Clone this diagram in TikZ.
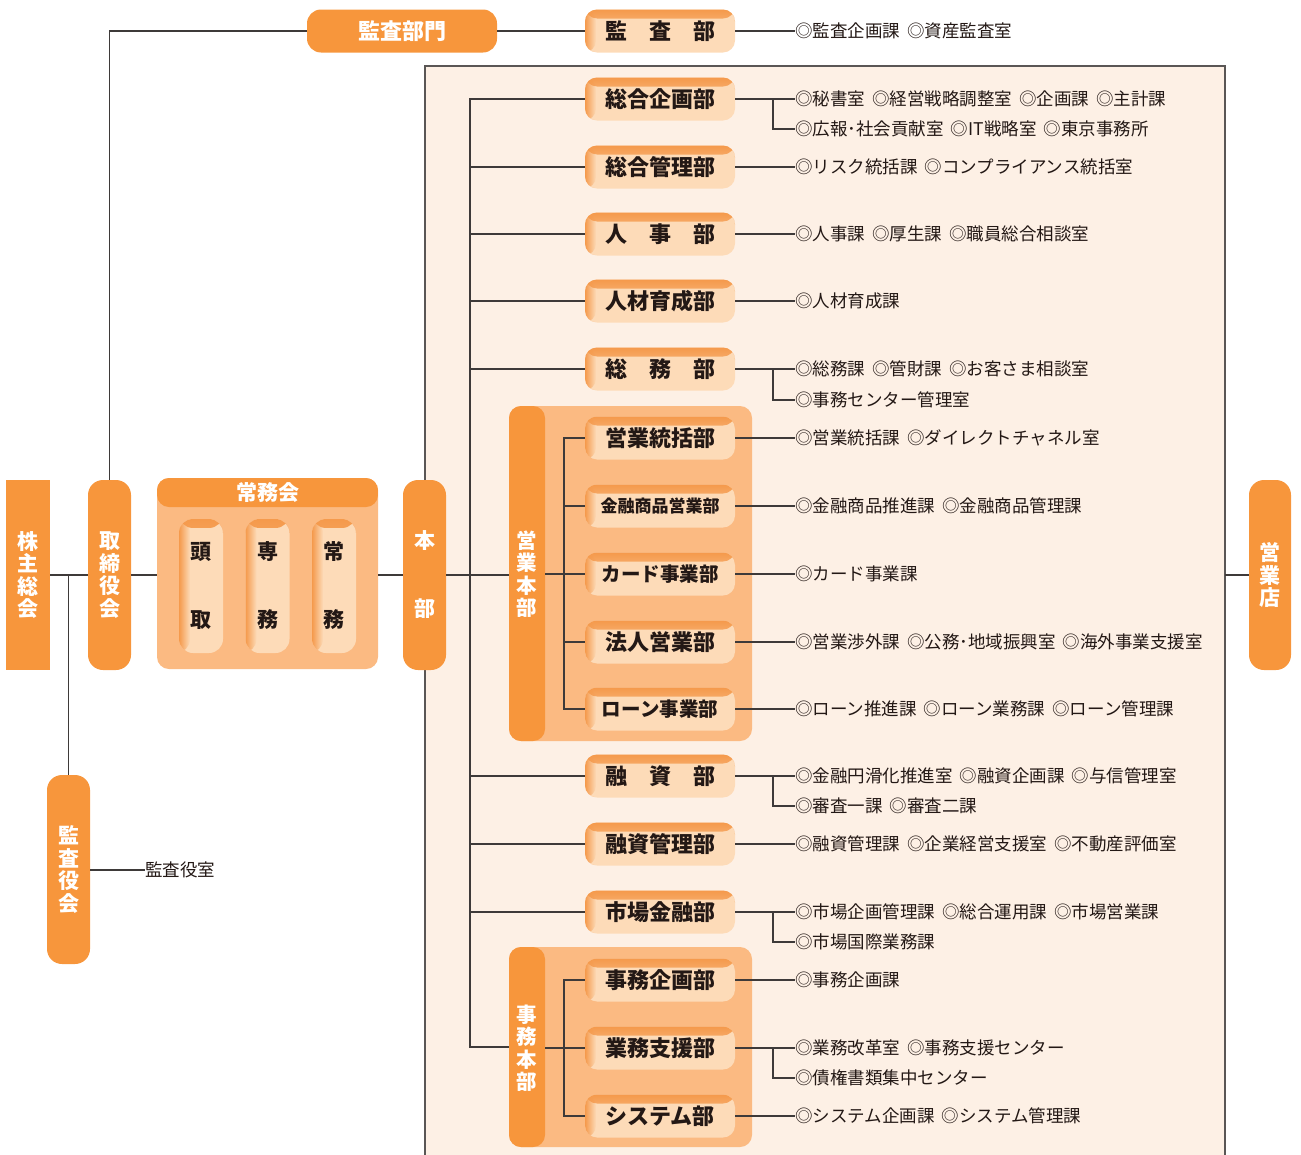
\documentclass[tikz,border=0pt]{standalone}
\usepackage{fontspec}
\usetikzlibrary{fadings}
\newfontfamily\jp{Noto Sans CJK JP}
\definecolor{orng}{HTML}{F7963C}
\definecolor{gbody}{HTML}{FBBA82}
\definecolor{btnlight}{HTML}{FDDBB8}
\definecolor{btnshade}{HTML}{F59A4C}
\definecolor{panelbg}{HTML}{FDF0E5}
\definecolor{linec}{HTML}{3E3A39}
\definecolor{panelline}{HTML}{5A5655}
\definecolor{txtc}{HTML}{231815}
\newcommand{\gapx}{\hspace{0.4em}}
\tikzset{
  conn/.style={draw=linec, line width=1.3pt},
  orbox/.style={fill=orng, text=white, font=\jp\bfseries\fontsize{21}{22.5}\selectfont,
    align=center, inner sep=0, minimum width=43, minimum height=190, rounded corners=15},
  btnshadow/.style={path picture={
    \fill[btnshade, path fading=south] (path picture bounding box.north west) rectangle ([yshift=-9pt]path picture bounding box.north east);
    \fill[btnshade, path fading=east] (path picture bounding box.north west) rectangle ([xshift=11pt]path picture bounding box.south west);
  }},
  btn/.style={btnshadow, fill=btnlight, rounded corners=12, minimum width=150, minimum height=43,
    inner sep=0, text=txtc, font=\jp\bfseries\fontsize{22}{22}\selectfont},
  btnsix/.style={btn, font=\jp\bfseries\fontsize{19.5}{19.5}\selectfont},
  pill/.style={btnshadow, fill=btnlight, rounded corners=14, minimum width=44, minimum height=134,
    inner sep=0, text=txtc, align=center, font=\jp\bfseries\fontsize{21}{68}\selectfont},
  desc/.style={anchor=west, inner sep=0, text=txtc, font=\jp\fontsize{17.5}{17.5}\selectfont},
  grp/.style={fill=gbody, rounded corners=12, inner sep=0, path picture={
    \fill[orng] (path picture bounding box.south west) rectangle ([xshift=36pt]path picture bounding box.north west);}},
  jgrp/.style={fill=gbody, rounded corners=12, inner sep=0, path picture={
    \fill[orng] (path picture bounding box.north west) rectangle ([yshift=-29pt]path picture bounding box.north east);}},
  bandtxt/.style={text=white, align=center, inner sep=0, font=\jp\bfseries\fontsize{20.5}{22.5}\selectfont},
}
\begin{document}
\begin{tikzpicture}[x=1pt,y=-1pt]
\useasboundingbox (0,0) rectangle (1301,1154);
% panel
\fill[panelbg] (425,66) rectangle (1225,1170);
\draw[draw=panelline, line width=1.4pt] (425,1170) -- (425,66) -- (1225,66) -- (1225,1170);
\coordinate (bus) at (470,0);
\coordinate (eband) at (545,0);
\coordinate (ebus) at (564,0);
\coordinate (split) at (773,0);
\coordinate (pr) at (1225,0);

% left column
\node[orbox, rounded corners=0, minimum width=44] (kabunushi) at (28,575) {株\\主\\総\\会};
\node[orbox] (torishimari) at (109.5,575) {取\\締\\役\\会};
\node[jgrp, minimum width=221, minimum height=191] (jomukai) at (267.5,573.5) {};
\node[bandtxt, font=\jp\bfseries\fontsize{21}{21}\selectfont] (jomutitle) at (267.5,492.5) {常務会};
\node[pill] (tosu) at (201,586) {頭\\取};
\node[pill] (senmu) at (267.5,586) {専\\務};
\node[pill] (jomu) at (334,586) {常\\務};
\node[orbox, font=\jp\bfseries\fontsize{21}{68}\selectfont] (honbu) at (424.5,575) {本\\部};
\node[orbox, minimum width=42] (eigyoten) at (1270,575) {営\\業\\店};
\node[orbox, minimum height=189] (kansayaku) at (68.5,869.5) {監\\査\\役\\会};
\node[desc] (kansayakushitsu) at (145,870) {監査役室};

% top
\node[orbox, minimum width=190, minimum height=43, rounded corners=14, font=\jp\bfseries\fontsize{22}{22}\selectfont] (kansabumon) at (402,31) {監査部門};
\node[btn] (kansabu) at (660,31) {監\hspace{1em}査\hspace{1em}部};
\node[desc] (d-kansa) at (795,31) {◎監査企画課\gapx◎資産監査室};

% groups
\node[grp, minimum width=243, minimum height=335] (eigyo) at (630.5,573.5) {};
\node[bandtxt] (eigyotxt) at (527,574) {営\\業\\本\\部};
\node[grp, minimum width=243, minimum height=200] (jimu) at (630.5,1047) {};
\node[bandtxt] (jimutxt) at (527,1048) {事\\務\\本\\部};

% departments
\node[btn] (sogokikaku) at (660,99) {総合企画部};
\node[btn] (sogokanri) at (660,167) {総合管理部};
\node[btn] (jinji) at (660,234) {人\hspace{1em}事\hspace{1em}部};
\node[btn] (jinzai) at (660,301) {人材育成部};
\node[btn] (somu) at (660,369) {総\hspace{1em}務\hspace{1em}部};
\node[btn] (eitokatsu) at (660,438) {営業統括部};
\node[btn, font=\jp\bfseries\fontsize{17}{17}\selectfont] (kinyu) at (660,506) {金融商品営業部};
\node[btnsix] (card) at (660,574) {カード事業部};
\node[btn] (hojin) at (660,642) {法人営業部};
\node[btnsix] (loan) at (660,709) {ローン事業部};
\node[btn] (yushi) at (660,776) {融\hspace{1em}資\hspace{1em}部};
\node[btn] (yushikanri) at (660,844) {融資管理部};
\node[btn] (shijo) at (660,912) {市場金融部};
\node[btn] (jimukikaku) at (660,980) {事務企画部};
\node[btn] (gyomushien) at (660,1048) {業務支援部};
\node[btn] (system) at (660,1116) {システム部};

% descriptions
\node[desc] (d1a) at (795,99) {◎秘書室\gapx◎経営戦略調整室\gapx◎企画課\gapx◎主計課};
\node[desc] (d1b) at (795,129) {◎広報･社会貢献室\gapx◎IT戦略室\gapx◎東京事務所};
\node[desc] (d2) at (795,167) {◎リスク統括課\gapx◎コンプライアンス統括室};
\node[desc] (d3) at (795,234) {◎人事課\gapx◎厚生課\gapx◎職員総合相談室};
\node[desc] (d4) at (795,301) {◎人材育成課};
\node[desc] (d5a) at (795,369) {◎総務課\gapx◎管財課\gapx◎お客さま相談室};
\node[desc] (d5b) at (795,400) {◎事務センター管理室};
\node[desc] (d6) at (795,438) {◎営業統括課\gapx◎ダイレクトチャネル室};
\node[desc] (d7) at (795,506) {◎金融商品推進課\gapx◎金融商品管理課};
\node[desc] (d8) at (795,574) {◎カード事業課};
\node[desc] (d9) at (795,642) {◎営業渉外課\gapx◎公務･地域振興室\gapx◎海外事業支援室};
\node[desc] (d10) at (795,709) {◎ローン推進課\gapx◎ローン業務課\gapx◎ローン管理課};
\node[desc] (d11a) at (795,776) {◎金融円滑化推進室\gapx◎融資企画課\gapx◎与信管理室};
\node[desc] (d11b) at (795,806) {◎審査一課\gapx◎審査二課};
\node[desc] (d12) at (795,844) {◎融資管理課\gapx◎企業経営支援室\gapx◎不動産評価室};
\node[desc] (d13a) at (795,912) {◎市場企画管理課\gapx◎総合運用課\gapx◎市場営業課};
\node[desc] (d13b) at (795,942) {◎市場国際業務課};
\node[desc] (d14) at (795,980) {◎事務企画課};
\node[desc] (d15a) at (795,1048) {◎業務改革室\gapx◎事務支援センター};
\node[desc] (d15b) at (795,1078) {◎債権書類集中センター};
\node[desc] (d16) at (795,1116) {◎システム企画課\gapx◎システム管理課};

% connectors: left side
\draw[conn] (kabunushi.east) -- (torishimari.west);
\draw[conn] (torishimari.east) -- (jomukai.west |- torishimari.east);
\draw[conn] (jomukai.east |- honbu.west) -- (honbu.west);
\draw[conn] (kansayaku.north) -- (kansayaku.north |- kabunushi.east);
\draw[conn] (kansayaku.east |- kansayakushitsu.west) -- (kansayakushitsu.west);
\draw[conn] (torishimari.north) |- (kansabumon.west);
\draw[conn] (kansabumon.east) -- (kansabu.west);
\draw[conn] (kansabu.east) -- (d-kansa.west);
\draw[conn] (eigyoten.west) -- (eigyoten.west -| pr);

% main bus
\draw[conn] (sogokikaku.west) -- (sogokikaku.west -| bus) -- (jimu.west -| bus) -- (jimu.west);
\foreach \n in {sogokanri,jinji,jinzai,somu,yushi,yushikanri,shijo}
  \draw[conn] (\n.west -| bus) -- (\n.west);
\draw[conn] (honbu.east) -- (honbu.east -| eigyo.west);

% eigyo honbu bus
\draw[conn] (card.west -| eband) -- (card.west);
\draw[conn] (eitokatsu.west) -- (eitokatsu.west -| ebus) -- (loan.west -| ebus) -- (loan.west);
\foreach \n in {kinyu,hojin}
  \draw[conn] (\n.west -| ebus) -- (\n.west);

% jimu honbu bus
\draw[conn] (gyomushien.west -| eband) -- (gyomushien.west);
\draw[conn] (jimukikaku.west) -- (jimukikaku.west -| ebus) -- (system.west -| ebus) -- (system.west);

% department to descriptions
\draw[conn] (sogokikaku.east) -- (d1a.west);
\draw[conn] (sogokikaku.east -| split) |- (d1b.west);
\draw[conn] (sogokanri.east) -- (d2.west);
\draw[conn] (jinji.east) -- (d3.west);
\draw[conn] (jinzai.east) -- (d4.west);
\draw[conn] (somu.east) -- (d5a.west);
\draw[conn] (somu.east -| split) |- (d5b.west);
\draw[conn] (eitokatsu.east) -- (d6.west);
\draw[conn] (kinyu.east) -- (d7.west);
\draw[conn] (card.east) -- (d8.west);
\draw[conn] (hojin.east) -- (d9.west);
\draw[conn] (loan.east) -- (d10.west);
\draw[conn] (yushi.east) -- (d11a.west);
\draw[conn] (yushi.east -| split) |- (d11b.west);
\draw[conn] (yushikanri.east) -- (d12.west);
\draw[conn] (shijo.east) -- (d13a.west);
\draw[conn] (shijo.east -| split) |- (d13b.west);
\draw[conn] (jimukikaku.east) -- (d14.west);
\draw[conn] (gyomushien.east) -- (d15a.west);
\draw[conn] (gyomushien.east -| split) |- (d15b.west);
\draw[conn] (system.east) -- (d16.west);
\end{tikzpicture}
\end{document}
